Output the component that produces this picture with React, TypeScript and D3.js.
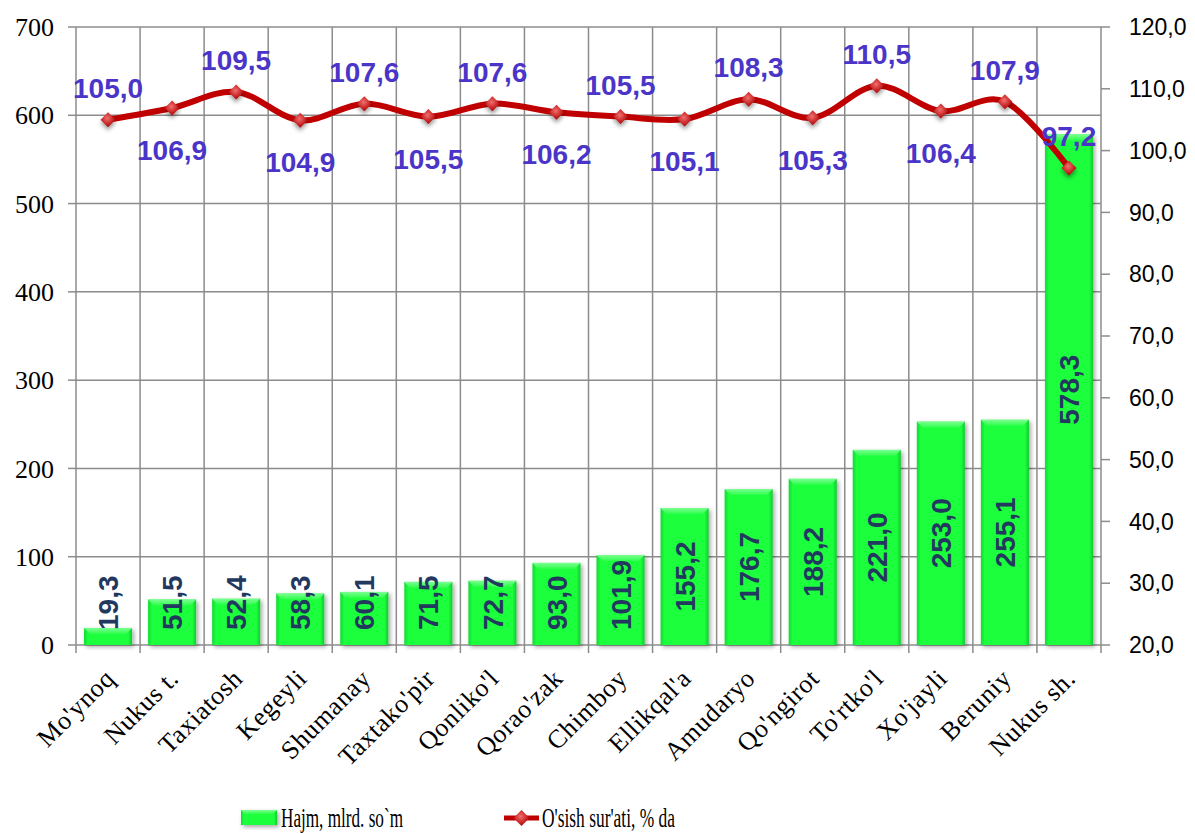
import React from "react";
import * as d3 from "d3";

const categories = [
  "Mo'ynoq", "Nukus t.", "Taxiatosh", "Kegeyli", "Shumanay", "Taxtako'pir",
  "Qonliko'l", "Qorao'zak", "Chimboy", "Ellikqal'a", "Amudaryo", "Qo'ngirot",
  "To'rtko'l", "Xo'jayli", "Beruniy", "Nukus sh.",
];
const volume = [19.3, 51.5, 52.4, 58.3, 60.1, 71.5, 72.7, 93.0, 101.9, 155.2, 176.7, 188.2, 221.0, 253.0, 255.1, 578.3];
const growth = [105.0, 106.9, 109.5, 104.9, 107.6, 105.5, 107.6, 106.2, 105.5, 105.1, 108.3, 105.3, 110.5, 106.4, 107.9, 97.2];
// label placement: true = above point
const growthLabelAbove = [true, false, true, false, true, false, true, false, true, false, true, false, true, false, true, true];
const leftTicks = [0, 100, 200, 300, 400, 500, 600, 700];
const rightTicks = [20, 30, 40, 50, 60, 70, 80, 90, 100, 110, 120];
const legendLabels = ["Hajm, mlrd. so`m", "O'sish sur'ati, % da"];

const W = 1195, H = 834;
const M = { left: 76, right: 1101, top: 27, bottom: 645 };

const fmt = (v: number) => v.toFixed(1).replace(".", ",");

function textLen(s: string, fs: number) {
  let l = 0;
  for (const c of s) l += c === "," ? 0.278 : 0.556;
  return l * fs;
}

function diamond(cx: number, cy: number, r: number) {
  return `M${cx},${cy - r}L${cx + r},${cy}L${cx},${cy + r}L${cx - r},${cy}Z`;
}

export default function App() {
  const x = d3.scaleBand<string>().domain(categories).range([M.left, M.right]).paddingInner(0.25).paddingOuter(0.125);
  const step = x.step();
  const yL = d3.scaleLinear().domain([0, 700]).range([M.bottom, M.top]);
  const yR = d3.scaleLinear().domain([20, 120]).range([M.bottom, M.top]);
  const cx = (c: string) => (x(c) as number) + x.bandwidth() / 2;

  const line = d3
    .line<number>()
    .x((_, i) => cx(categories[i]))
    .y((d) => yR(d))
    .curve(d3.curveCardinal.tension(0));

  const boundaries = d3.range(categories.length + 1).map((i) => M.left + i * step);
  const barFs = 28;
  const lblFs = 28;

  return (
    <svg width={W} height={H} style={{ position: "fixed", left: 0, top: 0, background: "#fff" }}>
      <defs>
        <linearGradient id="barG" x1="0" x2="1" y1="0" y2="0">
          <stop offset="0" stopColor="#14d834" />
          <stop offset="0.08" stopColor="#1bff3c" />
          <stop offset="0.92" stopColor="#1bff3c" />
          <stop offset="1" stopColor="#12c830" />
        </linearGradient>
        <linearGradient id="bevelG" x1="0" x2="0" y1="0" y2="1">
          <stop offset="0" stopColor="#7dff93" />
          <stop offset="1" stopColor="#2cff4a" />
        </linearGradient>
        <radialGradient id="mkG" cx="0.45" cy="0.4" r="0.6">
          <stop offset="0" stopColor="#f07070" />
          <stop offset="0.6" stopColor="#cc2a2a" />
          <stop offset="1" stopColor="#9a0c0c" />
        </radialGradient>
        <filter id="shadow" x="-30%" y="-30%" width="160%" height="160%">
          <feDropShadow dx="2" dy="2" stdDeviation="2" floodColor="#000" floodOpacity="0.35" />
        </filter>
        <filter id="mkShadow" x="-60%" y="-60%" width="220%" height="220%">
          <feDropShadow dx="0" dy="3" stdDeviation="2" floodColor="#000" floodOpacity="0.4" />
        </filter>
      </defs>

      {/* horizontal gridlines */}
      {leftTicks.map((t) => (
        <line key={"h" + t} x1={M.left} x2={M.right} y1={yL(t)} y2={yL(t)} stroke="#8c8c8c" strokeWidth={1.5} />
      ))}
      {/* vertical gridlines + bottom ticks */}
      {boundaries.map((bx, i) => (
        <line key={"v" + i} x1={bx} x2={bx} y1={M.top} y2={M.bottom + 8} stroke="#8c8c8c" strokeWidth={1.5} />
      ))}
      {/* left ticks */}
      {leftTicks.map((t) => (
        <line key={"lt" + t} x1={M.left - 8} x2={M.left} y1={yL(t)} y2={yL(t)} stroke="#8c8c8c" strokeWidth={1.5} />
      ))}
      {/* right ticks */}
      {rightTicks.map((t) => (
        <line key={"rt" + t} x1={M.right} x2={M.right + 9} y1={yR(t)} y2={yR(t)} stroke="#8c8c8c" strokeWidth={1.5} />
      ))}

      {/* left axis labels */}
      {leftTicks.map((t) => (
        <text key={"ll" + t} x={54} y={yL(t)} dy="0.35em" textAnchor="end"
          fontFamily="'Liberation Serif', 'Times New Roman', serif" fontSize={26} fill="#000">
          {t}
        </text>
      ))}
      {/* right axis labels */}
      {rightTicks.map((t) => (
        <text key={"rl" + t} x={1129} y={yR(t)} dy="0.36em" textAnchor="start"
          fontFamily="'Liberation Sans', Arial, sans-serif" fontSize={23} fill="#000">
          {fmt(t)}
        </text>
      ))}

      {/* bars */}
      {volume.map((v, i) => {
        const bx = x(categories[i]) as number;
        const bw = x.bandwidth();
        const by = yL(v);
        const bh = yL(0) - by;
        const bev = 6;
        return (
          <g key={"b" + i}>
            <rect x={bx} y={by} width={bw} height={bh} fill="url(#barG)" filter="url(#shadow)" />
            <path
              d={`M${bx},${by}L${bx + bw},${by}L${bx + bw - bev},${by + bev}L${bx + bev},${by + bev}Z`}
              fill="url(#bevelG)"
            />
          </g>
        );
      })}

      {/* bar labels */}
      {volume.map((v, i) => {
        const s = fmt(v);
        const L = textLen(s, barFs);
        const bc = (yL(v) + yL(0)) / 2;
        const c = Math.min(bc, yL(0) - 15 - L / 2);
        const px = cx(categories[i]);
        return (
          <text key={"bl" + i} transform={`translate(${px},${c}) rotate(-90)`} dy="0.36em" textAnchor="middle"
            fontFamily="'Liberation Sans', Arial, sans-serif" fontWeight="bold" fontSize={barFs} fill="#22385f">
            {s}
          </text>
        );
      })}

      {/* line */}
      <path d={line(growth) as string} fill="none" stroke="#c00000" strokeWidth={6} strokeLinejoin="round" />
      {growth.map((g, i) => (
        <path key={"m" + i} d={diamond(cx(categories[i]), yR(g), 7.5)} fill="url(#mkG)" filter="url(#mkShadow)" />
      ))}

      {/* line labels */}
      {growth.map((g, i) => {
        const px = cx(categories[i]);
        const py = yR(g);
        const y = growthLabelAbove[i] ? py - 22 : py + 52;
        return (
          <text key={"gl" + i} x={px} y={y} textAnchor="middle"
            fontFamily="'Liberation Sans', Arial, sans-serif" fontWeight="bold" fontSize={lblFs} fill="#4a35c8">
            {fmt(g)}
          </text>
        );
      })}

      {/* category labels */}
      {categories.map((c) => {
        const px = cx(c) + 8;
        const py = 680;
        return (
          <text key={"c" + c} transform={`translate(${px},${py}) rotate(-45)`} textAnchor="end"
            fontFamily="'Liberation Serif', 'Times New Roman', serif" fontSize={26} letterSpacing={0.6} fill="#000">
            {c}
          </text>
        );
      })}

      {/* legend */}
      <g>
        <rect x={241} y={810} width={36} height={15} fill="url(#barG)" filter="url(#shadow)" />
        <path d="M241,810L277,810L273,814L245,814Z" fill="url(#bevelG)" />
        <text x={281} y={827} fontFamily="'Liberation Serif', 'Times New Roman', serif" fontSize={27}
          textLength={122} lengthAdjust="spacingAndGlyphs" fill="#000">
          {legendLabels[0]}
        </text>
        <line x1={504} x2={539} y1={818} y2={818} stroke="#c00000" strokeWidth={5} />
        <path d={diamond(521.5, 818, 8)} fill="url(#mkG)" />
        <text x={542} y={827} fontFamily="'Liberation Serif', 'Times New Roman', serif" fontSize={27}
          textLength={133} lengthAdjust="spacingAndGlyphs" fill="#000">
          {legendLabels[1]}
        </text>
      </g>
    </svg>
  );
}
